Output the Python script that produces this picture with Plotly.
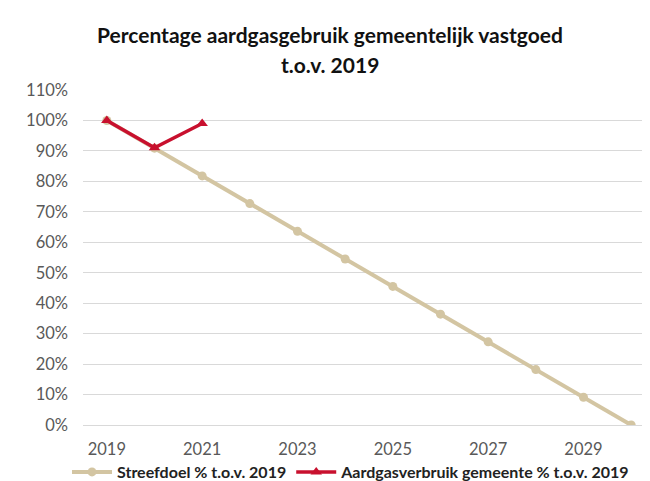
import plotly.graph_objects as go

years = [2019, 2020, 2021, 2022, 2023, 2024, 2025, 2026, 2027, 2028, 2029, 2030]
streefdoel = [1.00, 0.909, 0.818, 0.727, 0.636, 0.545, 0.455, 0.364, 0.273, 0.182, 0.091, 0.0]
verbruik_years = [2019, 2020, 2021]
verbruik = [1.00, 0.91, 0.99]
x_ticks = [2019, 2021, 2023, 2025, 2027, 2029]
y_ticks = [0, 0.1, 0.2, 0.3, 0.4, 0.5, 0.6, 0.7, 0.8, 0.9, 1.0, 1.1]
title_lines = ["Percentage aardgasgebruik gemeentelijk vastgoed", "t.o.v. 2019"]

beige = "#D3C5A2"
red = "#C8102E"
font = "Lato"

W, H = 650, 481
M_L, M_R, M_T, M_B = 75, 3, 82, 64
plot_h = H - M_T - M_B


def ypaper(px):
    return (H - M_B - px) / plot_h


fig = go.Figure()
fig.add_trace(go.Scatter(
    x=years, y=streefdoel, mode="lines+markers",
    name="Streefdoel % t.o.v. 2019",
    line=dict(color=beige, width=4),
    marker=dict(symbol="circle", size=9, color=beige),
))
fig.add_trace(go.Scatter(
    x=verbruik_years, y=verbruik, mode="lines+markers",
    name="Aardgasverbruik gemeente % t.o.v. 2019",
    line=dict(color=red, width=3.5),
    marker=dict(symbol="triangle-up", size=10, color=red),
))

for line, py in zip(title_lines, [26, 56]):
    fig.add_annotation(
        text="<b>" + line + "</b>", xref="paper", yref="paper",
        x=(322 - M_L) / (W - M_L - M_R), y=ypaper(py),
        xanchor="center", yanchor="middle", showarrow=False,
        font=dict(family=font, size=21, color="#111111"),
    )

fig.update_layout(
    width=W, height=H,
    paper_bgcolor="white", plot_bgcolor="white",
    margin=dict(l=M_L, r=M_R, t=M_T, b=M_B, autoexpand=False),
    font=dict(family=font, color="#595959", size=16),
    showlegend=True,
    legend=dict(
        orientation="h", x=(343 - M_L) / (W - M_L - M_R), xanchor="center",
        y=ypaper(481), yanchor="bottom",
        font=dict(family=font, size=16, color="#222222", weight="bold"),
        itemwidth=40, tracegroupgap=0, bgcolor="rgba(0,0,0,0)",
    ),
    xaxis=dict(
        range=[2018.5, 2030.5], tickmode="array", tickvals=x_ticks,
        ticktext=[str(v) for v in x_ticks],
        showgrid=False, zeroline=False, showline=True, linecolor="#D9D9D9",
        ticks="", tickfont=dict(size=16.5, color="#595959"), ticklabelstandoff=9,
    ),
    yaxis=dict(
        range=[0, 1.1], tickmode="array", tickvals=y_ticks, tickformat=".0%",
        showgrid=True, gridcolor="#D9D9D9", gridwidth=1.3, zeroline=False,
        showline=False, ticks="", tickfont=dict(size=16.5, color="#595959"),
        ticklabelstandoff=14,
    ),
)

fig.write_html("out.html")
